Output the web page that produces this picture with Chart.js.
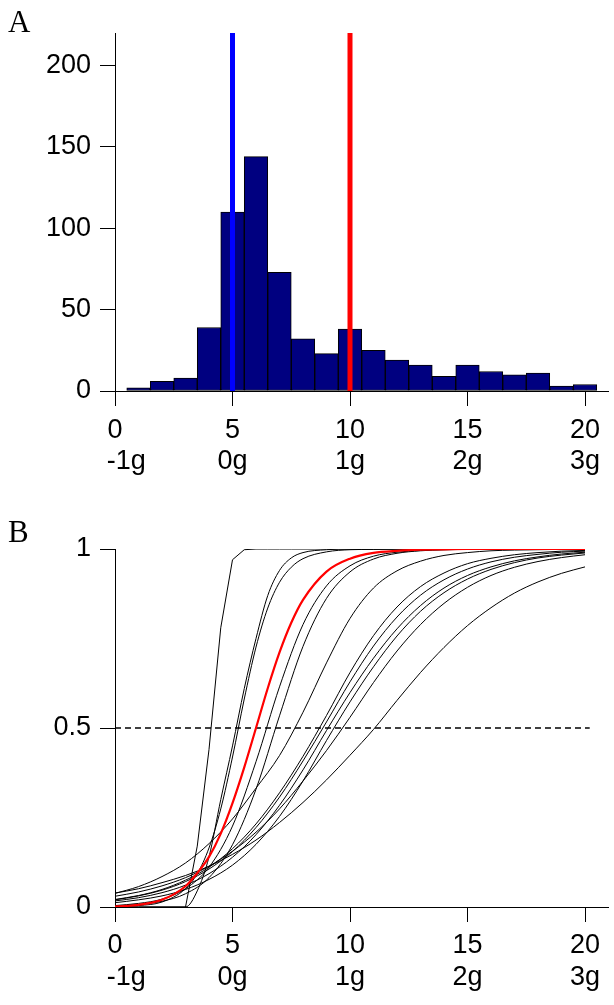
<!DOCTYPE html>
<html>
<head>
<meta charset="utf-8">
<script src="https://cdn.jsdelivr.net/npm/chart.js@4.4.1/dist/chart.umd.min.js"></script>
<style>
  html, body { margin: 0; padding: 0; background: #fff; }
  #wrap { position: relative; width: 614px; height: 1005px; overflow: hidden; }
  canvas { position: absolute; left: 0; }
  #chartA { top: 0; }
  #chartB { top: 490px; }
  .panel { position: absolute; left: 8px; font-family: 'Liberation Serif', 'Times New Roman', serif; font-size: 31px; line-height: 1; }
</style>
</head>
<body>
<div id="wrap">
  <canvas id="chartA" width="614" height="490"></canvas>
  <canvas id="chartB" width="614" height="515"></canvas>
  <div class="panel" style="top:6px">A</div>
  <div class="panel" style="top:516px">B</div>
</div>

<script>
// ---- panel A: histogram ----
const binCenters = [1, 2, 3, 4, 5, 6, 7, 8, 9, 10, 11, 12, 13, 14, 15, 16, 17, 18, 19, 20];
const binCounts = [2, 6, 8, 39, 110, 144, 73, 32, 23, 38, 25, 19, 16, 9, 16, 12, 10, 11, 3, 4];
const blueLineX = 5;
const redLineX = 10;
const yTicksA = [0, 50, 100, 150, 200];
const yMaxA = 220;

// shared x ticks
const xTicks = [0, 5, 10, 15, 20];
const xTickNums = ['0', '5', '10', '15', '20'];
const xTickG = ['   -1g', '0g', '1g', '2g', '3g'];

// ---- panel B: cumulative curves ----
const xFine = [0, 1, 2, 3, 3.5, 4, 4.5, 5, 5.5, 6, 6.5, 7, 7.5, 8, 9, 10, 11, 12, 13, 14, 15, 16, 17, 18, 19, 20];
const xCoarse = [0, 1, 2, 3, 4, 5, 6, 7, 8, 9, 10, 11, 12, 13, 14, 15, 16, 17, 18, 19, 20];

const curveS = [0, 0, 0, 0, 0.17, 0.44, 0.78, 0.97, 0.998, 1, 1, 1, 1, 1, 1, 1, 1, 1, 1, 1, 1, 1, 1, 1, 1, 1];
const curveT = [0, 0, 0, 0, 0.045, 0.14, 0.3, 0.45, 0.61, 0.75, 0.87, 0.94, 0.975, 0.99, 0.998, 1, 1, 1, 1, 1, 1, 1, 1, 1, 1, 1];
const curveC3 = [0.001, 0.004, 0.014, 0.051, 0.093, 0.165, 0.274, 0.419, 0.581, 0.726, 0.835, 0.907, 0.949, 0.973, 0.992, 0.998, 0.999, 1, 1, 1, 1, 1, 1, 1, 1, 1];
const curveRed = [0.001, 0.006, 0.02, 0.058, 0.095, 0.14, 0.205, 0.29, 0.39, 0.5, 0.611, 0.711, 0.794, 0.858, 0.937, 0.973, 0.989, 0.995, 0.998, 0.999, 1, 1, 1, 1, 1, 1];

const curveC4 = [0.004, 0.010, 0.022, 0.051, 0.111, 0.226, 0.406, 0.615, 0.789, 0.897, 0.953, 0.980, 0.991, 0.996, 0.998, 0.999, 1, 1, 1, 1, 1];
const curveC5 = [0.003, 0.007, 0.016, 0.037, 0.082, 0.174, 0.329, 0.534, 0.728, 0.862, 0.936, 0.972, 0.988, 0.995, 0.998, 0.999, 1, 1, 1, 1, 1];
const curveC6 = [0.038, 0.057, 0.085, 0.123, 0.177, 0.246, 0.332, 0.423, 0.544, 0.682, 0.806, 0.891, 0.939, 0.966, 0.982, 0.990, 0.995, 0.997, 0.998, 0.999, 0.999];
const curveC7 = [0.021, 0.032, 0.049, 0.075, 0.111, 0.163, 0.232, 0.319, 0.421, 0.535, 0.655, 0.758, 0.838, 0.895, 0.933, 0.959, 0.974, 0.984, 0.990, 0.994, 0.996];
const curveC8 = [0.020, 0.031, 0.047, 0.071, 0.106, 0.155, 0.222, 0.307, 0.408, 0.517, 0.629, 0.729, 0.810, 0.871, 0.914, 0.944, 0.964, 0.977, 0.985, 0.991, 0.994];
const curveC9 = [0.017, 0.026, 0.040, 0.061, 0.093, 0.139, 0.202, 0.284, 0.383, 0.493, 0.599, 0.695, 0.777, 0.842, 0.891, 0.926, 0.950, 0.967, 0.978, 0.986, 0.991];
const curveC10 = [0.012, 0.020, 0.031, 0.049, 0.077, 0.117, 0.175, 0.253, 0.352, 0.465, 0.573, 0.671, 0.757, 0.826, 0.878, 0.916, 0.943, 0.962, 0.975, 0.983, 0.989];
const curveC11 = [0.030, 0.042, 0.059, 0.082, 0.114, 0.156, 0.209, 0.274, 0.352, 0.437, 0.530, 0.627, 0.715, 0.789, 0.848, 0.893, 0.926, 0.949, 0.965, 0.976, 0.984];
const curveC12 = [0.039, 0.051, 0.068, 0.088, 0.114, 0.147, 0.187, 0.236, 0.292, 0.355, 0.424, 0.496, 0.577, 0.655, 0.725, 0.786, 0.836, 0.877, 0.908, 0.932, 0.950];

const yTicksB = [0, 0.5, 1];
const yTickLabelsB = ['0', '0.5', '1'];
const halfLineX = [0, 20.2];
const halfLineY = 0.5;

const pts = (xs, ys) => ys.map((y, i) => ({ x: xs[i], y: y }));

const axisFont = { family: "'Liberation Sans', Arial, sans-serif", size: 27, lineHeight: 1.15 };
const axisGrid = { drawOnChartArea: false, drawTicks: true, tickLength: 15, color: '#000', lineWidth: 1, offset: false };
const axisBorder = { display: true, color: '#000', width: 1 };

function xAxis(height, pad) {
    return {
        type: 'linear', min: 0, max: 21, offset: false,
        afterBuildTicks: s => { s.ticks = xTicks.map(v => ({ value: v })); },
        afterFit: s => { s.height = height; },
        grid: axisGrid,
        border: axisBorder,
        ticks: {
            color: '#000', font: axisFont, padding: pad, maxRotation: 0, autoSkip: false,
            callback: v => {
                const i = xTicks.indexOf(v);
                return [xTickNums[i], xTickG[i]];
            }
        }
    };
}

function yAxis(min, max, vals, labels) {
    return {
        type: 'linear', min: min, max: max,
        afterBuildTicks: s => { s.ticks = vals.map(v => ({ value: v })); },
        afterFit: s => { s.width = 115; },
        grid: axisGrid,
        border: axisBorder,
        ticks: {
            color: '#000', font: axisFont, padding: 9, autoSkip: false,
            callback: v => labels[vals.indexOf(v)]
        }
    };
}

const commonOpts = {
    responsive: false,
    animation: false,
    events: [],
    plugins: { legend: { display: false }, tooltip: { enabled: false } }
};

new Chart(document.getElementById('chartA'), {
    type: 'bar',
    data: {
        datasets: [
            { type: 'line', data: pts([blueLineX, blueLineX], [0, yMaxA]), borderColor: '#0000ff', borderWidth: 5, pointRadius: 0, order: 0 },
            { type: 'line', data: pts([redLineX, redLineX], [0, yMaxA]), borderColor: '#ff0000', borderWidth: 5, pointRadius: 0, order: 0 },
            {
                type: 'bar', data: pts(binCenters, binCounts),
                backgroundColor: '#000080', borderColor: '#000', borderWidth: 1,
                borderSkipped: false, barPercentage: 1, categoryPercentage: 1, order: 1
            }
        ]
    },
    options: Object.assign({}, commonOpts, {
        layout: { padding: { top: 33, right: 5.5, left: 0, bottom: 0 } },
        scales: {
            x: xAxis(99, 9),
            y: yAxis(0, yMaxA, yTicksA, yTicksA.map(String))
        }
    })
});

const blackCurves = [
    [xFine, curveT], [xFine, curveC3],
    [xCoarse, curveC4], [xCoarse, curveC5], [xCoarse, curveC6], [xCoarse, curveC7],
    [xCoarse, curveC8], [xCoarse, curveC9], [xCoarse, curveC10], [xCoarse, curveC11], [xCoarse, curveC12]
];

const dsB = [
    { data: pts(xFine, curveRed), borderColor: '#ff0000', borderWidth: 2.2, cubicInterpolationMode: 'monotone', order: 0 },
    { data: pts(xFine, curveS), borderColor: '#000', borderWidth: 1, tension: 0, order: 1 }
];
blackCurves.forEach(c => {
    dsB.push({ data: pts(c[0], c[1]), borderColor: '#000', borderWidth: 1, cubicInterpolationMode: 'monotone', order: 1 });
});
dsB.push({
    data: pts(halfLineX, [halfLineY, halfLineY]), borderColor: '#000', borderWidth: 1.4,
    borderDash: [6, 4], order: 2
});
dsB.forEach(d => { d.pointRadius = 0; d.fill = false; });

new Chart(document.getElementById('chartB'), {
    type: 'line',
    data: { datasets: dsB },
    options: Object.assign({}, commonOpts, {
        layout: { padding: { top: 59, right: 5.5, left: 0, bottom: 0 } },
        scales: {
            x: xAxis(98, 8.5),
            y: yAxis(0, 1, yTicksB, yTickLabelsB)
        }
    })
});
</script>
</body>
</html>
